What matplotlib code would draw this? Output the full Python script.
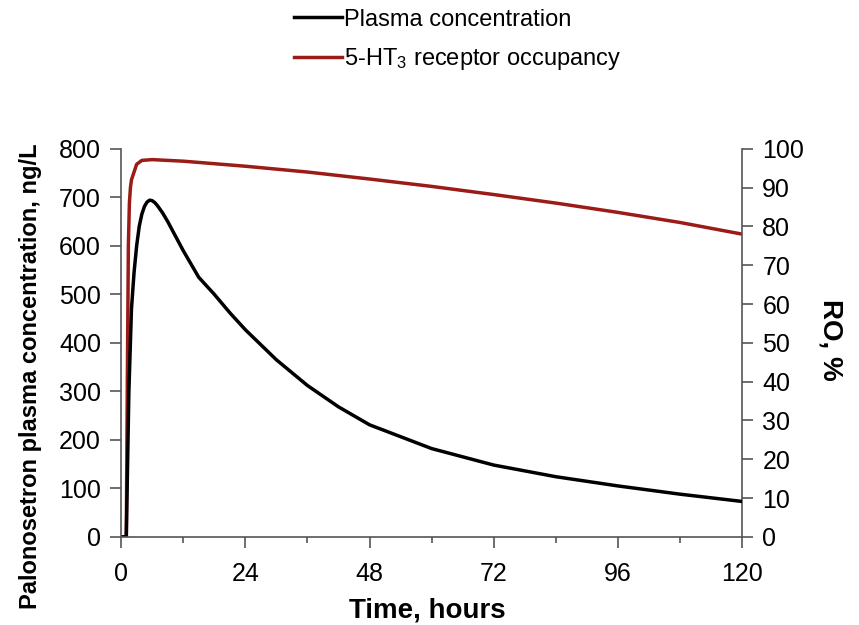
import matplotlib
matplotlib.use("Agg")
import matplotlib.pyplot as plt
from matplotlib.ticker import MultipleLocator

plt.rcParams['font.family'] = ['Liberation Sans', 'DejaVu Sans']
plt.rcParams['mathtext.fontset'] = 'custom'
plt.rcParams['mathtext.rm'] = 'Liberation Sans'
plt.rcParams['mathtext.it'] = 'Liberation Sans:italic'

# plasma concentration, ng/L
t_pk = [0, 1.0, 1.5, 2.0, 2.5, 3.0, 3.5, 4.0, 4.5, 5.0, 5.5, 6.0, 6.5, 7.0, 8.0, 9.0, 10, 12,
        15, 18, 21, 24, 30, 36, 42, 48, 60, 72, 84, 96, 108, 120]
conc = [0, 0, 300, 470, 545, 600, 640, 665, 681, 690, 694, 693, 689, 683, 668, 650, 630, 590,
        535, 500, 462, 427, 365, 312, 268, 231, 182, 148, 124, 105, 88, 73]

# receptor occupancy, %
t_ro = [0, 1.0, 1.2, 1.4, 1.6, 1.8, 2.0, 2.5, 3.0, 4.0, 6.0, 12, 24, 36, 48, 60, 72, 84, 96, 108, 120]
ro = [0, 0, 40, 75, 86, 90, 92, 94, 96, 97, 97.2, 96.8, 95.5, 94, 92.2, 90.3, 88.2, 86, 83.6, 81, 78]

fig, ax = plt.subplots(figsize=(8.59, 6.25), dpi=100)
fig.subplots_adjust(left=0.141, right=0.864, bottom=0.141, top=0.762)
ax2 = ax.twinx()

l1, = ax.plot(t_pk, conc, color='black', lw=2.5, label='Plasma concentration')
l2, = ax2.plot(t_ro, ro, color='#9b1c17', lw=2.5, label='5-HT$_3$ receptor occupancy')
ax2.set_zorder(ax.get_zorder() - 1)
ax.patch.set_visible(False)

ax.set_xlim(0, 120)
ax.set_ylim(0, 800)
ax2.set_ylim(0, 100)
ax.xaxis.set_major_locator(MultipleLocator(24))
ax.xaxis.set_minor_locator(MultipleLocator(12))
ax.yaxis.set_major_locator(MultipleLocator(100))
ax2.yaxis.set_major_locator(MultipleLocator(10))

for a in (ax, ax2):
    a.spines['top'].set_visible(False)
    for s in a.spines.values():
        s.set_color('#555555')
        s.set_linewidth(1.2)
    a.tick_params(colors='#555555', labelcolor='black', labelsize=18, width=1.2, length=8, pad=6.5)
ax.tick_params(axis='x', pad=10)
ax.tick_params(axis='x', which='minor', length=4.3, width=1.2, colors='#555555')
ax.spines['right'].set_visible(False)
ax2.spines['left'].set_visible(False)
ax2.spines['bottom'].set_visible(False)

ax.set_xlabel('Time, hours', fontsize=20, fontweight='bold')
ax.xaxis.set_label_coords(0.493, -0.157)
ax.set_ylabel('Palonosetron plasma concentration, ng/L', fontsize=17, fontweight='bold')
ax.yaxis.set_label_coords(-0.127, 0.415)
ax2.set_ylabel('RO, %', fontsize=20, fontweight='bold', rotation=270, va='bottom')
ax2.yaxis.set_label_coords(1.122, 0.508)

fig.legend(handles=[l1, l2], loc='upper left', bbox_to_anchor=(292 / 859, 0.99),
           frameon=False, fontsize=17, handlelength=2.0, handletextpad=0.1,
           labelspacing=0.65, borderpad=0.1, borderaxespad=0)

fig.savefig('out.png', dpi=100)
